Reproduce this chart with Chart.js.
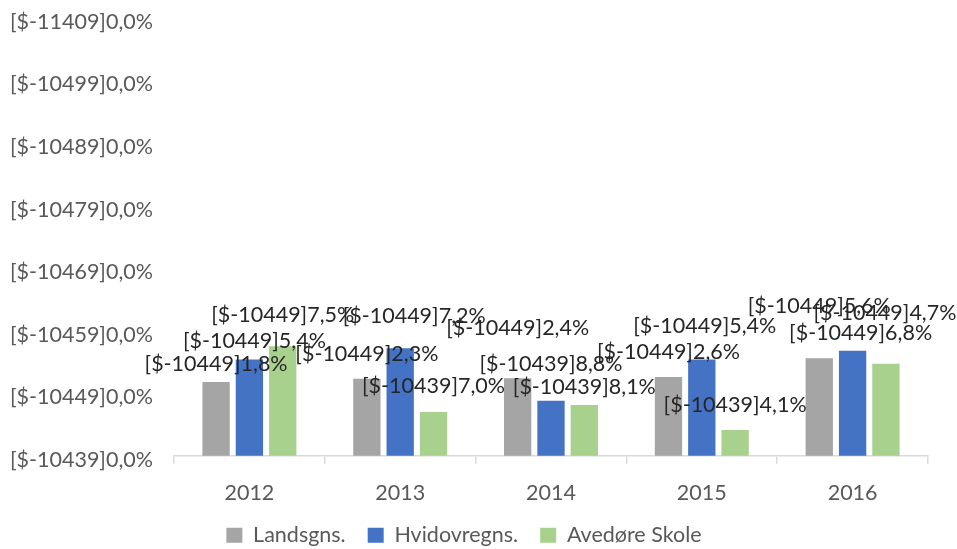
<!DOCTYPE html>
<html>
<head>
<meta charset="utf-8">
<script src="https://cdn.jsdelivr.net/npm/chart.js@4"></script>
<style>
  html, body { margin: 0; padding: 0; background: #ffffff; }
  #wrap { width: 957px; height: 549px; position: relative; }
</style>
</head>
<body>
<div id="wrap"><canvas id="c" width="957" height="549"></canvas></div>
<script>
// ---- data ----
const categories = ["2012", "2013", "2014", "2015", "2016"];
const seriesNames = ["Landsgns.", "Hvidovregns.", "Avedøre Skole"];
const landsgns = [41.8, 42.3, 42.4, 42.6, 45.6];
const hvidovregns = [45.4, 47.2, 38.8, 45.4, 46.8];
const avedore = [47.5, 37.0, 38.1, 34.1, 44.7];
const yTickLabels = ["[$-10439]0,0%", "[$-10449]0,0%", "[$-10459]0,0%", "[$-10469]0,0%",
                     "[$-10479]0,0%", "[$-10489]0,0%", "[$-10499]0,0%", "[$-11409]0,0%"];

// ---- styling / label placement (relative nudges, px) ----
const colors = ["#A5A5A5", "#4472C4", "#A9D18E"];
const labelNudge = [
  [[0, -18], [0, -25], [0, -50], [0, -25], [0, -52]],
  [[5, -18], [14, -32], [0, -37], [3, -33], [8, -18]],
  [[0, -31], [0, -26], [0, -18], [0, -25], [-1, -51]]
];

function fmtLabel(v) {
  const tens = Math.floor(v / 10 + 1e-9);
  const rem = v - tens * 10;
  return "[$-104" + tens + "9]" + rem.toFixed(1).replace(".", ",") + "%";
}

const FONT = "Lato";
const FS = 21.5;

const dataLabels = {
  id: "dataLabels",
  afterDatasetsDraw(chart) {
    const ctx = chart.ctx;
    ctx.save();
    ctx.font = FS + "px " + FONT;
    ctx.fillStyle = "#262626";
    ctx.textAlign = "center";
    ctx.textBaseline = "middle";
    chart.data.datasets.forEach((ds, di) => {
      const meta = chart.getDatasetMeta(di);
      meta.data.forEach((el, i) => {
        const n = labelNudge[di][i];
        ctx.fillText(fmtLabel(ds.data[i]), el.x + n[0], el.y + n[1]);
      });
    });
    ctx.restore();
  }
};

const seriesData = [landsgns, hvidovregns, avedore];

new Chart(document.getElementById("c"), {
  type: "bar",
  data: {
    labels: categories,
    datasets: seriesNames.map((name, k) => ({
      label: name,
      data: seriesData[k],
      backgroundColor: colors[k],
      borderWidth: 0,
      categoryPercentage: 0.663,
      barPercentage: 0.82
    }))
  },
  options: {
    responsive: false,
    animation: false,
    devicePixelRatio: 1,
    layout: { padding: { top: 18, right: 29, bottom: -7, left: 0 } },
    plugins: {
      legend: {
        position: "bottom",
        labels: {
          font: { family: FONT, size: FS },
          color: "#595959",
          boxWidth: 16,
          boxHeight: 15,
          padding: 22
        }
      },
      tooltip: { enabled: false }
    },
    scales: {
      x: {
        afterFit(scale) { scale.height = scale.height - 19; },
        grid: {
          display: true,
          drawOnChartArea: false,
          drawTicks: true,
          tickLength: 8,
          offset: true,
          color: "#D9D9D9",
          lineWidth: 1.5
        },
        border: { display: true, color: "#D9D9D9", width: 1.5 },
        ticks: {
          font: { family: FONT, size: FS },
          color: "#595959",
          padding: 16
        }
      },
      y: {
        min: 30,
        max: 100,
        grid: { display: false },
        border: { display: false },
        afterFit(scale) { scale.width = 174; scale.paddingTop = 0; scale.paddingBottom = 0; },
        ticks: {
          stepSize: 10,
          font: { family: FONT, size: FS },
          color: "#595959",
          padding: 13,
          labelOffset: 4,
          callback: function (value, index) { return yTickLabels[index]; }
        }
      }
    }
  },
  plugins: [dataLabels]
});
</script>
</body>
</html>
